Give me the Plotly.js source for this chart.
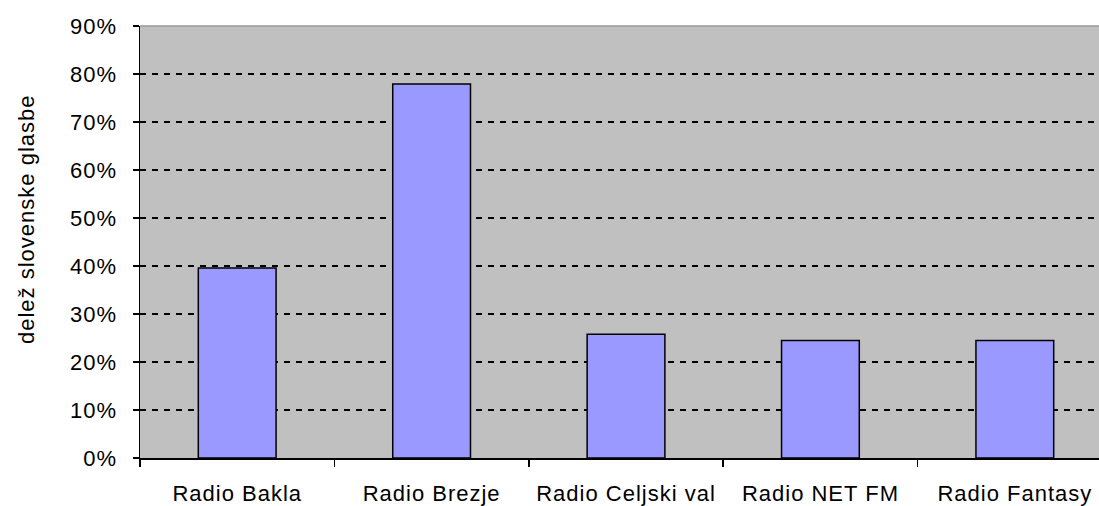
<!DOCTYPE html>
<html>
<head>
<meta charset="utf-8">
<script src="https://cdn.plot.ly/plotly-3.0.1.min.js"></script>
<style>
  html, body { margin: 0; padding: 0; background: #fff; }
  #chart { width: 1099px; height: 506px; }
  .xtick text, .ytick text, .annotation-text { letter-spacing: 1px; }
</style>
</head>
<body>
<div id="chart"></div>
<script>
const categories = ["Radio Bakla", "Radio Brezje", "Radio Celjski val", "Radio NET FM", "Radio Fantasy"];
const shares = [0.396, 0.779, 0.258, 0.245, 0.245];
const yTickValues = [0, 0.1, 0.2, 0.3, 0.4, 0.5, 0.6, 0.7, 0.8, 0.9];
const yTickLabels = ["0%", "10%", "20%", "30%", "40%", "50%", "60%", "70%", "80%", "90%"];
const yTitle = "delež slovenske glasbe";

const font = { family: "Liberation Sans, Arial, sans-serif", size: 22, color: "#000" };

const trace = {
  type: "bar",
  x: categories,
  y: shares,
  marker: { color: "#9999FF", line: { color: "#000", width: 1.5 } },
  hoverinfo: "skip"
};

const layout = {
  width: 1099,
  height: 506,
  margin: { l: 140, r: 0, t: 26, b: 48, pad: 0 },
  paper_bgcolor: "#ffffff",
  plot_bgcolor: "#C0C0C0",
  showlegend: false,
  bargap: 0.6,
  font: font,
  xaxis: {
    type: "category",
    range: [-0.5, 4.433],
    tickson: "boundaries",
    ticks: "outside",
    ticklen: 7,
    tickwidth: 1.5,
    tickcolor: "#000",
    showline: true,
    linecolor: "#000",
    linewidth: 1.5,
    showgrid: false,
    zeroline: false,
    ticklabelstandoff: 15,
    tickfont: font,
    fixedrange: true
  },
  yaxis: {
    range: [0, 0.9],
    tickvals: yTickValues,
    ticktext: yTickLabels,
    ticks: "outside",
    ticklen: 6,
    tickwidth: 1.5,
    tickcolor: "#000",
    showline: true,
    linecolor: "#000",
    linewidth: 1.5,
    showgrid: true,
    gridcolor: "#000",
    gridwidth: 1.5,
    griddash: "6px,6px",
    zeroline: false,
    ticklabelstandoff: 11,
    tickfont: font,
    fixedrange: true
  },
  shapes: [
    { type: "line", xref: "paper", yref: "paper", x0: 0, x1: 1, y0: 1, y1: 1,
      line: { color: "#9a9a9a", width: 1.5 } }
  ],
  annotations: [
    { text: yTitle, xref: "paper", yref: "paper", x: (26 - 140) / 959, y: (458 - 220) / 432,
      xanchor: "center", yanchor: "middle", textangle: -90, showarrow: false, font: font }
  ]
};

Plotly.newPlot("chart", [trace], layout, { displayModeBar: false, staticPlot: true });
</script>
</body>
</html>
